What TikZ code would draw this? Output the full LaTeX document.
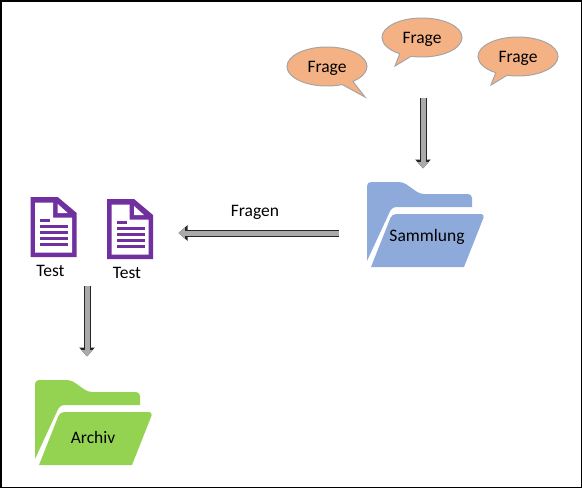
\documentclass[tikz,border=0pt]{standalone}
\usepackage{fontspec}
\setmainfont{Carlito}
\usetikzlibrary{arrows.meta,shapes.callouts}
\definecolor{frageorange}{HTML}{F4B183}
\definecolor{bubbleline}{HTML}{A5A5A5}
\definecolor{shaftgray}{HTML}{ABA9A9}
\definecolor{sammlungblue}{HTML}{8EAADB}
\definecolor{archivgreen}{HTML}{94D352}
\definecolor{testpurple}{HTML}{7030A0}

\begin{document}
\begin{tikzpicture}[x=1pt,y=-1pt,font=\fontsize{17.5}{20}\selectfont]
  \tikzset{
    bubble/.style={ellipse callout,draw=bubbleline,fill=frageorange,line width=1pt,
      minimum width=80pt,minimum height=39pt,inner sep=0pt,text depth=0pt,callout pointer arc=18},
    label/.style={inner sep=0pt},
    blockarrow/.style={
      preaction={draw=black!85,line width=7pt,-{Triangle[length=9pt,width=15pt]}},
      draw=shaftgray,line width=5pt,shorten >=1.5pt,shorten <=1pt,
      -{Triangle[length=6.4pt,width=10.7pt]}},
    folder/.pic={
      \fill[pic actions] (0,79) [rounded corners=4pt] -- (0,0) -- (36,0) -- (53,12) -- (105,12)
        [sharp corners] -- (105,25) [rounded corners=4pt] -- (25,25) [sharp corners] -- cycle;
      \fill[pic actions] (4,85) [rounded corners=4pt] -- (25,32) -- (118,32) [sharp corners] -- (97,85) -- cycle;
    },
    testdoc/.pic={
      \fill[testpurple] (0,0) -- (27,0) -- (46,16) -- (46,60) -- (0,60) -- cycle;
      \fill[white] (4.5,5.5) -- (22.5,5.5) -- (22.5,20.5) -- (41.5,20.5) -- (41.5,55.5) -- (4.5,55.5) -- cycle;
      \fill[white] (27,7) -- (27,16) -- (37,16) -- cycle;
      \fill[testpurple] (9.5,21.5) rectangle (19.5,24.5);
      \foreach \y in {27.5,33.5,39.5,45.5}
        \fill[testpurple] (9.5,\y) rectangle (37.5,\y+3);
    }
  }
  \useasboundingbox (0,0) rectangle (582,488);
  \draw[black,line width=1.5pt] (.75,.75) rectangle (581.25,487.25);

  \node[bubble,callout absolute pointer={(365,97)}] (frageA) at (327,66.5) {Frage};
  \node[bubble,callout absolute pointer={(395,66)}] (frageB) at (422,37.5) {Frage};
  \node[bubble,callout absolute pointer={(491,85)}] (frageC) at (518,56.5) {Frage};

  \pic[fill=sammlungblue] at (367,182) {folder};
  \pic[fill=archivgreen] at (35,380) {folder};
  \pic at (30.7,197) {testdoc};
  \pic at (107,199) {testdoc};

  \node[label] (sammlung) at (427,237) {Sammlung};
  \node[label] (archiv) at (93,437) {Archiv};
  \node[label] (testA) at (50.5,271) {Test};
  \node[label] (testB) at (127,273) {Test};
  \node[label] (fragen) at (255,212) {Fragen};

  \coordinate (sammelStart) at (423,97);
  \coordinate (sammelEnd) at (423,170);
  \coordinate (fragenStart) at (340,233);
  \coordinate (fragenEnd) at (177,233);
  \coordinate (archivStart) at (87,285);
  \coordinate (archivEnd) at (87,358);
  \draw[blockarrow] (sammelStart) -- (sammelEnd);
  \draw[blockarrow] (fragenStart) -- (fragenEnd);
  \draw[blockarrow] (archivStart) -- (archivEnd);
\end{tikzpicture}
\end{document}
